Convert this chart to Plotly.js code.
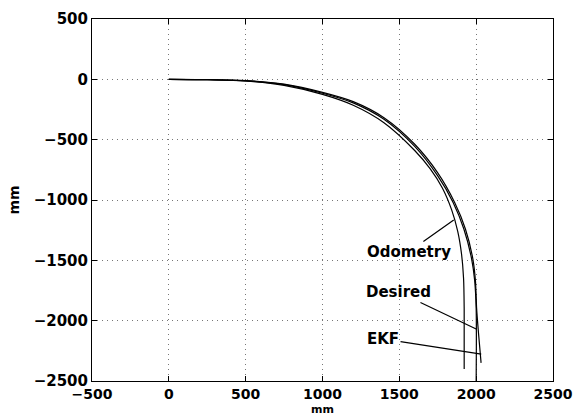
<!DOCTYPE html>
<html>
<head>
<meta charset="utf-8">
<script src="https://cdn.plot.ly/plotly-3.0.1.min.js"></script>
<style>html,body{margin:0;padding:0;background:#fff;}#chart{width:581px;height:415px;}</style>
</head>
<body>
<div id="chart"></div>
<script>
// Desired trajectory (mm)
const desiredX = [0, 250, 500, 750, 1000, 1200, 1400, 1600, 1750, 1850, 1920, 1970, 1990, 2000, 2000];
const desiredY = [0, -3, -12, -44, -115, -195, -331, -556, -800, -1020, -1240, -1485, -1665, -1900, -2500];
// EKF estimate (mm)
const ekfX = [0, 250, 500, 750, 1000, 1200, 1400, 1600, 1750, 1860, 1930, 1978, 1995, 2003, 2015, 2032];
const ekfY = [0, -2, -10, -40, -108, -185, -318, -538, -775, -1020, -1240, -1485, -1665, -1900, -2100, -2350];
// Odometry estimate (mm)
const odoX = [0, 250, 500, 750, 1000, 1200, 1400, 1600, 1700, 1780, 1840, 1880, 1905, 1918, 1922, 1922];
const odoY = [0, -3, -14, -50, -125, -215, -360, -590, -740, -900, -1080, -1260, -1450, -1650, -1900, -2400];

const tickVals = [-500, 0, 500, 1000, 1500, 2000, 2500];
const yTickVals = [500, 0, -500, -1000, -1500, -2000, -2500];

const labels = ['Odometry', 'Desired', 'EKF'];

const lineStyle = {color: '#000', width: 1.2, shape: 'spline', smoothing: 0.8};
const traces = [
  {x: odoX, y: odoY, mode: 'lines', line: lineStyle, name: labels[0]},
  {x: desiredX, y: desiredY, mode: 'lines', line: lineStyle, name: labels[1]},
  {x: ekfX, y: ekfY, mode: 'lines', line: lineStyle, name: labels[2]}
];

const fnt = {family: 'DejaVu Sans, Arial, sans-serif', size: 15, color: '#000', weight: 'bold'};

function ann(text, x, y, tx, ty) {
  return {text: text, x: x, y: y, ax: tx, ay: ty, axref: 'x', ayref: 'y', xref: 'x', yref: 'y',
    showarrow: true, arrowhead: 0, arrowwidth: 1.2, arrowcolor: '#000', font: fnt, standoff: 0};
}

const axisCommon = {
  showline: true, linecolor: '#000', linewidth: 1, mirror: 'ticks',
  ticks: 'inside', ticklen: 5, tickcolor: '#000', tickwidth: 1,
  showgrid: true, gridcolor: '#777', griddash: '1px,4px', gridwidth: 1,
  zeroline: false, tickfont: fnt
};

const layout = {
  width: 581, height: 415,
  margin: {l: 92, r: 28, t: 19, b: 34},
  paper_bgcolor: '#fff', plot_bgcolor: '#fff',
  showlegend: false,
  xaxis: Object.assign({}, axisCommon, {range: [-500, 2500], tickvals: tickVals,
    tickfont: Object.assign({}, fnt, {size: 14}),
    ticktext: tickVals.map(v => v < 0 ? '\u2212' + Math.abs(v) : String(v))}),
  yaxis: Object.assign({}, axisCommon, {range: [-2500, 500], tickvals: yTickVals, ticktext: yTickVals.map(v => v < 0 ? '\u2212' + Math.abs(v) : String(v)),
    title: {text: 'mm', font: {family: fnt.family, size: 14, color: '#000', weight: 'bold'}, standoff: 10}}),
  annotations: [
    ann(labels[0], 1854, -1165, 1560, -1430),
    ann(labels[1], 2000, -2069, 1494, -1762),
    ann(labels[2], 2033, -2278, 1394, -2151),
    {text: 'mm', xref: 'paper', yref: 'paper', x: 0.5, y: 0, yanchor: 'top', xanchor: 'center', yshift: -21,
     borderpad: 0, showarrow: false, font: {family: fnt.family, size: 11, color: '#000', weight: 'bold'}}
  ]
};

Plotly.newPlot('chart', traces, layout, {staticPlot: true, displayModeBar: false});
</script>
</body>
</html>
